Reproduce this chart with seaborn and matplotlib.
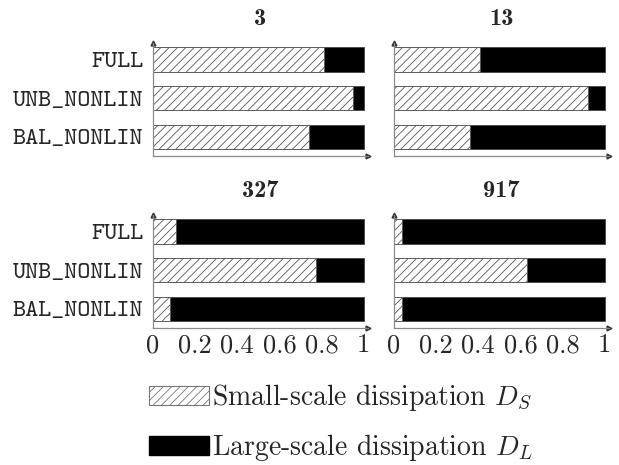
import matplotlib
matplotlib.use("Agg")
import matplotlib.pyplot as plt
from matplotlib.patches import Patch
import seaborn as sns
import pandas as pd

# ---- data ----
cases = ["3", "13", "327", "917"]
models = ["FULL", "UNB_NONLIN", "BAL_NONLIN"]
small_3 = [0.81, 0.95, 0.74]
small_13 = [0.41, 0.92, 0.36]
small_327 = [0.11, 0.775, 0.08]
small_917 = [0.04, 0.63, 0.04]
large_3 = [0.19, 0.05, 0.26]
large_13 = [0.59, 0.08, 0.64]
large_327 = [0.89, 0.225, 0.92]
large_917 = [0.96, 0.37, 0.96]
tick_values = [0, 0.2, 0.4, 0.6, 0.8, 1]
tick_labels = ["0", "0.2", "0.4", "0.6", "0.8", "1"]
legend_labels = ["Small-scale dissipation $D_S$", "Large-scale dissipation $D_L$"]

smalls = [small_3, small_13, small_327, small_917]
larges = [large_3, large_13, large_327, large_917]
rows = []
for c, s_list, l_list in zip(cases, smalls, larges):
    for m, s, l in zip(models, s_list, l_list):
        rows.append({"case": c, "model": m, "small": s, "large": l, "total": s + l})
df = pd.DataFrame(rows)

sns.set_style("white")
plt.rcParams["mathtext.fontset"] = "cm"
plt.rcParams["axes.formatter.use_mathtext"] = True
plt.rcParams["hatch.linewidth"] = 0.6

W, H = 619, 465
fig = plt.figure(figsize=(W / 100, H / 100), dpi=100)

def frac_rect(x0, x1, ytop, ybot):
    return [x0 / W, 1 - ybot / H, (x1 - x0) / W, (ybot - ytop) / H]

rects = [
    frac_rect(153, 368, 43, 156),
    frac_rect(394, 609, 43, 156),
    frac_rect(153, 368, 215, 328),
    frac_rect(394, 609, 215, 328),
]

axis_grey = "#8a8a8a"
for i, (case, rect) in enumerate(zip(cases, rects)):
    ax = fig.add_axes(rect)
    sub = df[df["case"] == case]
    sns.barplot(data=sub, x="total", y="model", order=models, orient="h",
                color="black", saturation=1, width=0.63, errorbar=None,
                edgecolor="#444444", linewidth=0.6, ax=ax)
    sns.barplot(data=sub, x="small", y="model", order=models, orient="h",
                color="white", saturation=1, width=0.63, errorbar=None,
                edgecolor="#555555", linewidth=0.6, hatch="////", ax=ax)
    ax.set_xlim(0, 1.02)
    ax.set_ylim(2.49, -0.42)
    ax.set_xlabel("")
    ax.set_ylabel("")
    for sp in ["top", "right"]:
        ax.spines[sp].set_visible(False)
    for sp in ["left", "bottom"]:
        ax.spines[sp].set_color(axis_grey)
        ax.spines[sp].set_linewidth(0.9)
    ax.plot(1, 0, marker=">", color="#333333", markersize=3.5,
            transform=ax.transAxes, clip_on=False)
    ax.plot(0, 1, marker="^", color="#333333", markersize=3.5,
            transform=ax.transAxes, clip_on=False)
    ax.set_xticks(tick_values)
    if i >= 2:
        ax.set_xticklabels(tick_labels, fontfamily="cmr10", fontsize=19)
    else:
        ax.set_xticklabels([])
    ax.tick_params(axis="x", direction="inout", length=4, width=0.6,
                   color="#bbbbbb", pad=2)
    ax.set_yticks(range(len(models)))
    if i % 2 == 0:
        ax.set_yticklabels(models, fontfamily="cmtt10", fontsize=18)
        ax.tick_params(axis="y", length=0, pad=7)
    else:
        ax.set_yticklabels([])
        ax.tick_params(axis="y", length=0)
    ax.set_title(case, fontfamily="cmb10", fontsize=17.5, pad=13)

handles = [
    Patch(facecolor="white", edgecolor="#777777", hatch="////", linewidth=0.8),
    Patch(facecolor="black", edgecolor="black"),
]
fig.legend(handles, legend_labels, loc="upper left",
           bbox_to_anchor=(149 / W, 1 - 382 / H), frameon=False,
           prop={"family": "cmr10", "size": 20}, handlelength=2.15,
           handleheight=0.68, handletextpad=0.1, labelspacing=0.68,
           borderpad=0, borderaxespad=0)

fig.savefig("out.png", dpi=100)
